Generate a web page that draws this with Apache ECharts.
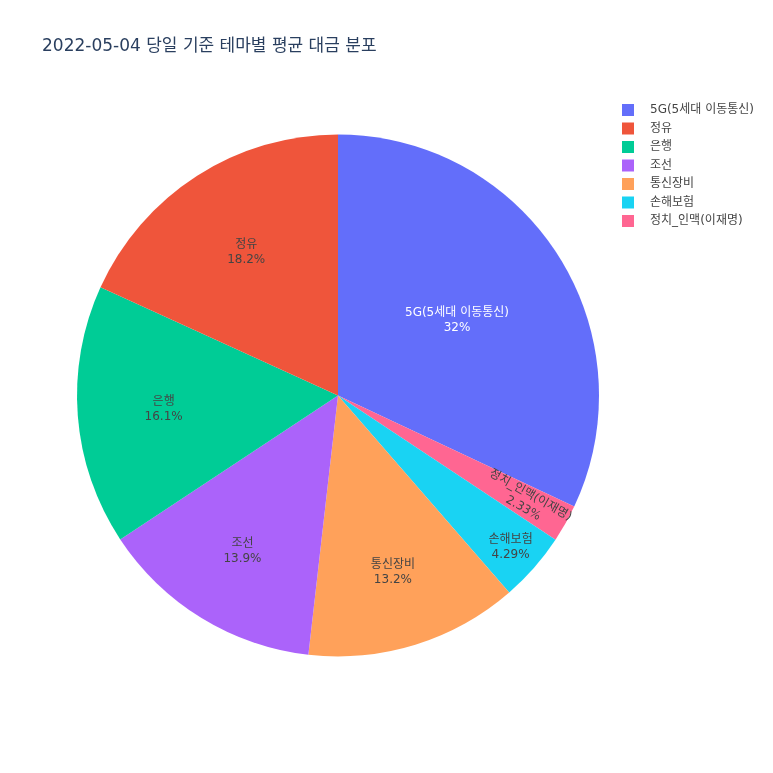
<!DOCTYPE html>
<html>
<head>
<meta charset="utf-8">
<script src="https://cdn.jsdelivr.net/npm/echarts@6/dist/echarts.min.js"></script>
<style>html,body{margin:0;padding:0;background:#fff}#c{width:773px;height:773px}</style>
</head>
<body>
<div id="c"></div>
<script>
const titleText = '2022-05-04 당일 기준 테마별 평균 대금 분포';
const categories = ['5G(5세대 이동통신)', '정유', '은행', '조선', '통신장비', '손해보험', '정치_인맥(이재명)'];
const shares = [32, 18.2, 16.1, 13.9, 13.2, 4.29, 2.33];
const colors = ['#636EFA', '#EF553B', '#00CC96', '#AB63FA', '#FFA15A', '#19D3F3', '#FF6692'];
// clockwise drawing order from 12 o'clock
const drawOrder = [0, 6, 5, 4, 3, 2, 1];
// radial label placement (fraction of radius), styling only
const labelRadius = [0.54, 0.65, 0.67, 0.70, 0.71, 0.88, 0.83];

const CX = 338, CY = 395.5, R = 261;
const font = '"DejaVu Sans", "Noto Sans CJK KR", sans-serif';

const data = drawOrder.map(i => ({
  name: categories[i],
  value: shares[i],
  itemStyle: { color: colors[i] },
  label: {
    color: i === 0 ? '#ffffff' : '#444444',
    rotate: i === 6 ? 'radial' : 0
  }
}));

// mid angles (radians, clockwise from 12 o'clock) derived from the values
const total = shares.reduce((a, b) => a + b, 0);
const midAngles = [];
let acc = 0;
drawOrder.forEach(i => {
  midAngles.push((acc + shares[i] / 2) / total * Math.PI * 2);
  acc += shares[i];
});

const chart = echarts.init(document.getElementById('c'), null, { renderer: 'canvas' });
chart.setOption({
  backgroundColor: '#ffffff',
  animation: false,
  color: colors,
  title: {
    text: titleText,
    left: 37,
    top: 33,
    textStyle: { fontFamily: font, fontSize: 17, fontWeight: 'normal', color: '#2a3f5f' }
  },
  legend: {
    data: categories,
    orient: 'vertical',
    left: 622,
    top: 104,
    icon: 'rect',
    itemWidth: 12,
    itemHeight: 12,
    itemGap: 6.5,
    padding: 0,
    textStyle: { fontFamily: font, fontSize: 12, color: '#444444', padding: [0, 0, 0, 11], lineHeight: 12 }
  },
  series: [{
    type: 'pie',
    center: [CX, CY],
    radius: [0, R],
    startAngle: 90,
    clockwise: true,
    avoidLabelOverlap: false,
    itemStyle: { borderWidth: 0 },
    label: {
      show: true,
      position: 'inside',
      formatter: p => p.name + '\n' + p.value + '%',
      fontFamily: font,
      fontSize: 12,
      lineHeight: 15,
      align: 'center',
      verticalAlign: 'middle'
    },
    labelLine: { show: false },
    emphasis: { disabled: true },
    data: data,
    labelLayout: function (params) {
      const k = params.dataIndex;
      const idx = drawOrder[k];
      const a = midAngles[k];
      const tr = labelRadius[idx] * R;
      return { x: CX + tr * Math.sin(a), y: CY - tr * Math.cos(a), align: 'center', verticalAlign: 'middle' };
    }
  }]
});
</script>
</body>
</html>
